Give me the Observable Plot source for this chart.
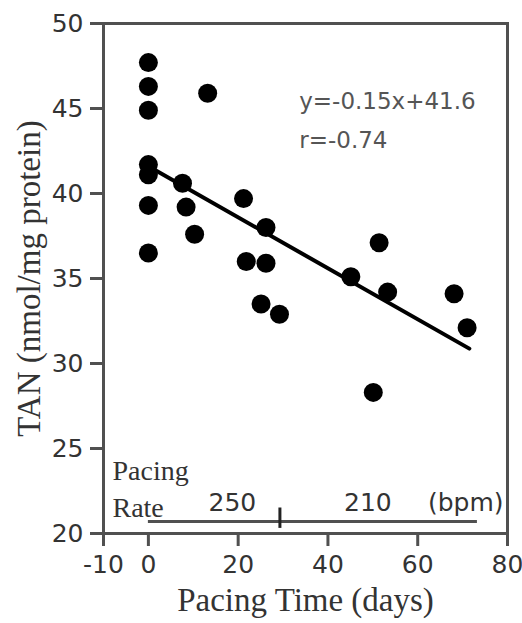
<!DOCTYPE html>
<html>
<head>
<meta charset="utf-8">
<script src="https://cdn.jsdelivr.net/npm/d3@7"></script>
<script src="https://cdn.jsdelivr.net/npm/@observablehq/plot@0.6"></script>
<style>
  html, body { margin: 0; padding: 0; background: #fff; }
  #chart svg { display: block; }
</style>
</head>
<body>
<div id="chart"></div>
<script>
// Pacing time (days) and TAN (nmol/mg protein)
const pacingDays = [0, 0, 0, 0, 0, 0, 0, 13.2, 7.6, 8.4, 10.3, 21.2, 26.2, 21.8, 26.2, 25.1, 29.2, 51.4, 45.1, 53.3, 68.1, 71.0, 50.1];
const tanValues  = [47.7, 46.3, 44.9, 41.7, 41.1, 39.3, 36.5, 45.9, 40.6, 39.2, 37.6, 39.7, 38.0, 36.0, 35.9, 33.5, 32.9, 37.1, 35.1, 34.2, 34.1, 32.1, 28.3];

// Regression reported in the figure
const slope = -0.15;
const intercept = 41.6;
const fitRange = [0, 71.5];
const fitLabels = ["y=-0.15x+41.6", "r=-0.74"];
const fitLabelX = [33.6, 33.6];
const fitLabelY = [45.4, 43.1];

// Pacing rate segments
const rateBreaks = [0, 29.3, 73.3];
const rateValues = [250, 210];
const rateLabelX = [18.7, 48.9];
const rateUnitLabel = "(bpm)";
const rateUnitX = 70.7;
const rateTitle = ["Pacing", "Rate"];
const rateTitleY = [23.7, 21.5];
const rateBarY = 20.7;

// Axes
const xTicks = [-10, 0, 20, 40, 60, 80];
const yTicks = [20, 25, 30, 35, 40, 45, 50];
const xTitle = "Pacing Time (days)";
const yTitle = "TAN (nmol/mg protein)";

const points = pacingDays.map((d, i) => ({day: d, tan: tanValues[i]}));
const fitLine = fitRange.map(x => ({day: x, tan: slope * x + intercept}));
const fitText = fitLabels.map((t, i) => ({t, x: fitLabelX[i], y: fitLabelY[i]}));
const rateText = rateValues.map((v, i) => ({t: String(v), x: rateLabelX[i]}));
const rateTitleText = rateTitle.map((t, i) => ({t, y: rateTitleY[i]}));

const sans = "DejaVu Sans";
const serif = "Liberation Serif";
const ink = "#333";
const frameInk = "#505050";

const chart = Plot.plot({
  width: 522,
  height: 623,
  marginLeft: 103,
  marginRight: 15,
  marginTop: 23,
  marginBottom: 90,
  style: {fontFamily: sans, background: "#fff"},
  x: {domain: [-10, 80]},
  y: {domain: [20, 50]},
  marks: [
    Plot.frame({stroke: frameInk, strokeWidth: 3}),
    Plot.axisX({ticks: xTicks, tickSize: 13, tickPadding: 9, stroke: frameInk, strokeWidth: 3,
      fontSize: 25, fill: ink, tickFormat: d => String(d), label: null}),
    Plot.axisY({ticks: yTicks, tickSize: 13, tickPadding: 7, stroke: frameInk, strokeWidth: 3,
      fontSize: 25, fill: ink, tickFormat: d => String(d), label: null}),
    // pacing rate bar
    Plot.ruleY([rateBarY], {x1: rateBreaks[0], x2: rateBreaks[2], stroke: frameInk, strokeWidth: 3}),
    Plot.ruleX([rateBreaks[1]], {y1: rateBarY - 0.4, y2: rateBarY + 0.8, stroke: "#222", strokeWidth: 3}),
    Plot.text(rateText, {x: "x", y: rateBarY + 1.1, text: "t", fontSize: 25, fill: ink, fontFamily: sans}),
    Plot.text([rateUnitLabel], {x: rateUnitX, y: rateBarY + 1.1, text: d => d, fontSize: 25, fill: ink, fontFamily: sans}),
    Plot.text(rateTitleText, {x: -8, y: "y", text: "t", textAnchor: "start", fontSize: 28, fill: ink, fontFamily: serif}),
    // regression
    Plot.line(fitLine, {x: "day", y: "tan", stroke: "#000", strokeWidth: 4}),
    Plot.text(fitText, {x: "x", y: "y", text: "t", textAnchor: "start", fontSize: 23, fill: "#555", fontFamily: sans}),
    // data
    Plot.dot(points, {x: "day", y: "tan", r: 9.5, fill: "#000", stroke: "none"}),
    // axis titles
    Plot.text([xTitle], {frameAnchor: "bottom", dy: 77, text: d => d, fontSize: 33, fill: ink, fontFamily: serif}),
    Plot.text([yTitle], {frameAnchor: "left", textAnchor: "middle", dx: -74, rotate: -90, text: d => d, fontSize: 33, fill: ink, fontFamily: serif})
  ]
});
document.getElementById("chart").appendChild(chart);
</script>
</body>
</html>
